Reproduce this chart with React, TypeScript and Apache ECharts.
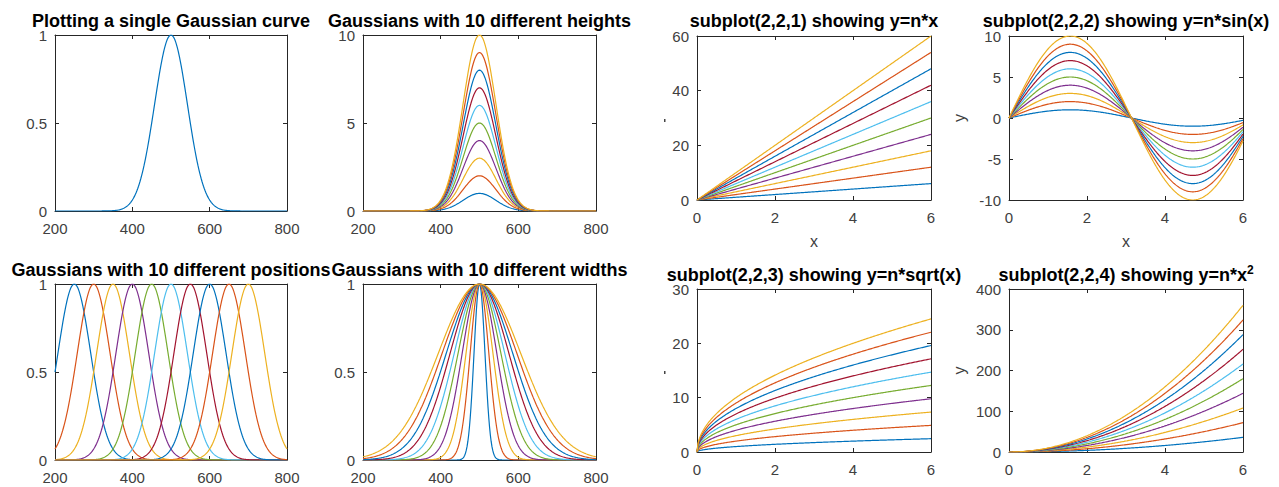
import React, { useEffect, useRef } from "react";
import * as echarts from "echarts";

// MATLAB default colour order (cycles after 7)
const COLORS = ["#0072BD", "#D95319", "#EDB120", "#7E2F8E", "#77AC30", "#4DBEEE", "#A2142F", "#0072BD", "#D95319", "#EDB120"];

// ---- data parameters ----
const gaussX = [200, 800]; // x domain of the Gaussian panels
const singleCenter = 500;
const singleWidth = 60;
const singleHeight = 1;
const heights = [1, 2, 3, 4, 5, 6, 7, 8, 9, 10];
const positions = [250, 300, 350, 400, 450, 500, 550, 600, 650, 700];
const widths = [20, 34, 49, 63, 78, 92, 107, 121, 136, 150];
const multipliers = [1, 2, 3, 4, 5, 6, 7, 8, 9, 10];
const funcX = [0, 6]; // x domain of the subplot(2,2,k) panels

// tick labels
const gaussXTicks = [200, 400, 600, 800];
const unitYTicks = [0, 0.5, 1];
const heightYTicks = [0, 5, 10];
const funcXTicks = [0, 2, 4, 6];
const linYTicks = [0, 20, 40, 60];
const sinYTicks = [-10, -5, 0, 5, 10];
const sqrtYTicks = [0, 10, 20, 30];
const sqYTicks = [0, 100, 200, 300, 400];

const titles = [
  "Plotting a single Gaussian curve",
  "Gaussians with 10 different heights",
  "subplot(2,2,1) showing y=n*x",
  "subplot(2,2,2) showing y=n*sin(x)",
  "Gaussians with 10 different positions",
  "Gaussians with 10 different widths",
  "subplot(2,2,3) showing y=n*sqrt(x)",
  "subplot(2,2,4) showing y=n*x",
];

const FONT = "'Liberation Sans', Arial, Helvetica, sans-serif";

function gauss(h: number, c: number, w: number): number[][] {
  const out: number[][] = [];
  for (let x = gaussX[0]; x <= gaussX[1]; x += 2) {
    out.push([x, h * Math.exp(-Math.pow((x - c) / w, 2))]);
  }
  return out;
}

function func(n: number, f: (x: number) => number): number[][] {
  const out: number[][] = [];
  for (let i = 0; i <= 240; i++) {
    const x = funcX[0] + ((funcX[1] - funcX[0]) * i) / 240;
    out.push([x, n * f(x)]);
  }
  return out;
}

type Panel = {
  grid: { left: number; top: number; width: number; height: number };
  xTicks: number[];
  yTicks: number[];
  title: string;
  titleY: number;
  xName?: string;
  yName?: string;
  series: number[][][];
};

export default function App() {
  const ref = useRef<HTMLDivElement>(null);

  useEffect(() => {
    if (!ref.current) return;
    const chart = echarts.init(ref.current, undefined, { renderer: "svg" });

    const panels: Panel[] = [
      {
        grid: { left: 55, top: 35, width: 232, height: 176 },
        xTicks: gaussXTicks, yTicks: unitYTicks, title: titles[0], titleY: 21,
        series: [gauss(singleHeight, singleCenter, singleWidth)],
      },
      {
        grid: { left: 363, top: 35, width: 233, height: 176 },
        xTicks: gaussXTicks, yTicks: heightYTicks, title: titles[1], titleY: 21,
        series: heights.map((h) => gauss(h, singleCenter, singleWidth)),
      },
      {
        grid: { left: 697, top: 36, width: 234, height: 164 },
        xTicks: funcXTicks, yTicks: linYTicks, title: titles[2], titleY: 21, xName: "x",
        series: multipliers.map((n) => func(n, (x) => x)),
      },
      {
        grid: { left: 1009, top: 36, width: 234, height: 164 },
        xTicks: funcXTicks, yTicks: sinYTicks, title: titles[3], titleY: 21, xName: "x", yName: "y",
        series: multipliers.map((n) => func(n, (x) => Math.sin(x))),
      },
      {
        grid: { left: 55, top: 284, width: 232, height: 176 },
        xTicks: gaussXTicks, yTicks: unitYTicks, title: titles[4], titleY: 270,
        series: positions.map((p) => gauss(singleHeight, p, singleWidth)),
      },
      {
        grid: { left: 363, top: 284, width: 233, height: 176 },
        xTicks: gaussXTicks, yTicks: unitYTicks, title: titles[5], titleY: 270,
        series: widths.map((w) => gauss(singleHeight, singleCenter, w)),
      },
      {
        grid: { left: 697, top: 289, width: 234, height: 163 },
        xTicks: funcXTicks, yTicks: sqrtYTicks, title: titles[6], titleY: 275,
        series: multipliers.map((n) => func(n, (x) => Math.sqrt(x))),
      },
      {
        grid: { left: 1009, top: 289, width: 234, height: 163 },
        xTicks: funcXTicks, yTicks: sqYTicks, title: titles[7], titleY: 275, yName: "y",
        series: multipliers.map((n) => func(n, (x) => x * x)),
      },
    ];

    const axisColor = "#262626";
    const labelColor = "#404040";
    const grids: any[] = [];
    const xAxes: any[] = [];
    const yAxes: any[] = [];
    const series: any[] = [];
    const graphics: any[] = [];

    panels.forEach((p, i) => {
      grids.push({ ...p.grid, containLabel: false, show: false });
      const xMin = p.xTicks[0];
      const xMax = p.xTicks[p.xTicks.length - 1];
      const xInt = p.xTicks[1] - p.xTicks[0];
      const yMin = p.yTicks[0];
      const yMax = p.yTicks[p.yTicks.length - 1];
      const yInt = p.yTicks[1] - p.yTicks[0];
      const baseLine = { show: true, onZero: false, lineStyle: { color: axisColor, width: 1 } };
      const baseTick = { show: true, inside: true, length: 4, lineStyle: { color: axisColor, width: 1 } };
      const label = { color: labelColor, fontSize: 15, fontFamily: FONT, showMinLabel: true, showMaxLabel: true };
      xAxes.push({
        type: "value", gridIndex: i, position: "bottom", min: xMin, max: xMax, interval: xInt,
        axisLine: baseLine, axisTick: baseTick, splitLine: { show: false },
        axisLabel: { ...label, margin: 10 },
        name: p.xName || "", nameLocation: "middle", nameGap: 33,
        nameTextStyle: { color: labelColor, fontSize: 16, fontFamily: FONT },
      });
      xAxes.push({
        type: "value", gridIndex: i, position: "top", min: xMin, max: xMax, interval: xInt,
        axisLine: baseLine, axisTick: baseTick, splitLine: { show: false }, axisLabel: { show: false },
      });
      yAxes.push({
        type: "value", gridIndex: i, position: "left", min: yMin, max: yMax, interval: yInt,
        axisLine: baseLine, axisTick: baseTick, splitLine: { show: false },
        axisLabel: { ...label, margin: 8 },
        name: p.yName || "", nameLocation: "middle", nameGap: 42, nameRotate: 90,
        nameTextStyle: { color: labelColor, fontSize: 16, fontFamily: FONT },
      });
      yAxes.push({
        type: "value", gridIndex: i, position: "right", min: yMin, max: yMax, interval: yInt,
        axisLine: baseLine, axisTick: baseTick, splitLine: { show: false }, axisLabel: { show: false },
      });
      p.series.forEach((d, k) => {
        series.push({
          type: "line", xAxisIndex: 2 * i, yAxisIndex: 2 * i, data: d,
          showSymbol: false, symbol: "none", clip: true,
          lineStyle: { color: COLORS[k % COLORS.length], width: 1.2 },
          itemStyle: { color: COLORS[k % COLORS.length] },
          z: 2,
        });
      });
      const cx = p.grid.left + p.grid.width / 2;
      if (i === 7) {
        graphics.push({
          type: "text", x: cx, y: p.titleY, z: 10,
          style: {
            text: "{a|" + p.title + "}{s|2}",
            align: "center", verticalAlign: "middle",
            rich: {
              a: { fontSize: 18, fontWeight: "bold", fontFamily: FONT, fill: "#000", lineHeight: 22 },
              s: { fontSize: 12, fontWeight: "bold", fontFamily: FONT, fill: "#000", lineHeight: 12, verticalAlign: "top" },
            },
          },
        });
      } else {
        graphics.push({
          type: "text", x: cx, y: p.titleY, z: 10,
          style: {
            text: p.title, align: "center", verticalAlign: "middle",
            fontSize: 18, fontWeight: "bold", fontFamily: FONT, fill: "#000",
          },
        });
      }
    });

    // tiny remnants of hidden y labels left of subplot(2,2,1) and subplot(2,2,3)
    graphics.push({ type: "rect", shape: { x: 664, y: 119, width: 1.5, height: 3 }, style: { fill: "#444" } });
    graphics.push({ type: "rect", shape: { x: 664, y: 371, width: 1.5, height: 3 }, style: { fill: "#444" } });

    chart.setOption({
      animation: false,
      backgroundColor: "#ffffff",
      grid: grids,
      xAxis: xAxes,
      yAxis: yAxes,
      series,
      graphic: graphics,
    });

    return () => chart.dispose();
  }, []);

  return (
    <div
      ref={ref}
      style={{ position: "fixed", left: 0, top: 0, width: 1279, height: 487, background: "#fff" }}
    />
  );
}
